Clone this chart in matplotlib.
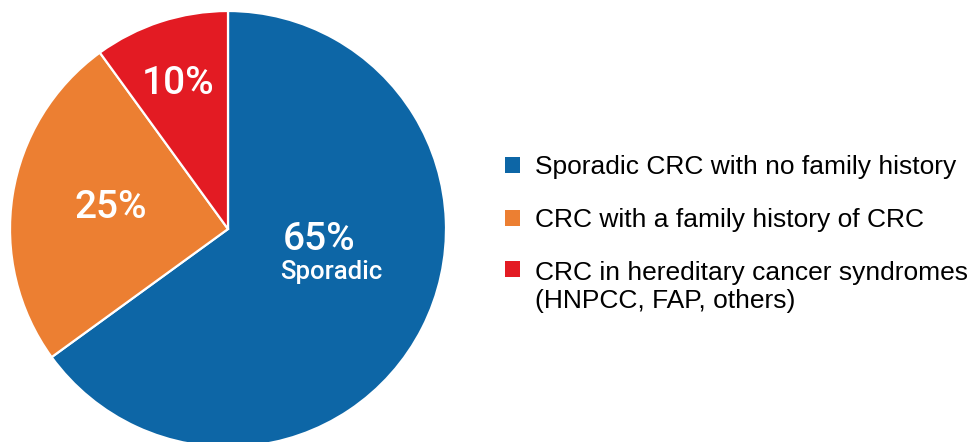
import matplotlib
matplotlib.use("Agg")
import matplotlib.pyplot as plt

# donnees du graphique
categories = ["Sporadic CRC with no family history",
              "CRC with a family history of CRC",
              "CRC in hereditary cancer syndromes\n(HNPCC, FAP, others)"]
valeurs = [65, 25, 10]
couleurs = ["#0d66a6", "#ec7f32", "#e31b23"]
etiquettes = ["65%", "25%", "10%"]

plt.rcParams['font.family'] = ['Roboto', 'DejaVu Sans']

W, H = 972, 442
fig = plt.figure(figsize=(W / 100, H / 100), dpi=100)
ax = fig.add_axes([0, 0, 1, 1])

cx, cy, r = 228, H - 229, 218
wedges, _ = ax.pie(valeurs, colors=couleurs, startangle=90, counterclock=False,
                   center=(cx, cy), radius=r, frame=True,
                   wedgeprops=dict(edgecolor='white', linewidth=1.6))
ax.set_xlim(0, W)
ax.set_ylim(0, H)
ax.set_aspect('equal')
ax.axis('off')

# etiquettes sur les parts
pos = [(319, 240), (111, 208), (178, 84)]
for (x, y), txt in zip(pos, etiquettes):
    ax.text(x, H - y, txt, color='white', fontsize=28, fontweight='medium',
            ha='center', va='center')
ax.text(331, H - 272, "Sporadic", color='white', fontsize=18.5,
        fontweight='medium', ha='center', va='center')

leg = ax.legend(wedges, categories, loc='upper left',
                bbox_to_anchor=(505 / W, 1 - 155 / H), frameon=False,
                prop={'family': ['Liberation Sans', 'DejaVu Sans'], 'size': 19},
                handlelength=0.55, handleheight=0.55,
                handletextpad=0.6, labelspacing=1.1, borderpad=0,
                borderaxespad=0)
for t in leg.get_texts():
    t.set_linespacing(1.22)
for h in leg.legend_handles:
    h.set_edgecolor('none')
# le carre rouge aligne sur la premiere ligne
h3 = leg.legend_handles[2]
h3.set_y(h3.get_y() + 13.5)

fig.savefig("out.png", dpi=100)
